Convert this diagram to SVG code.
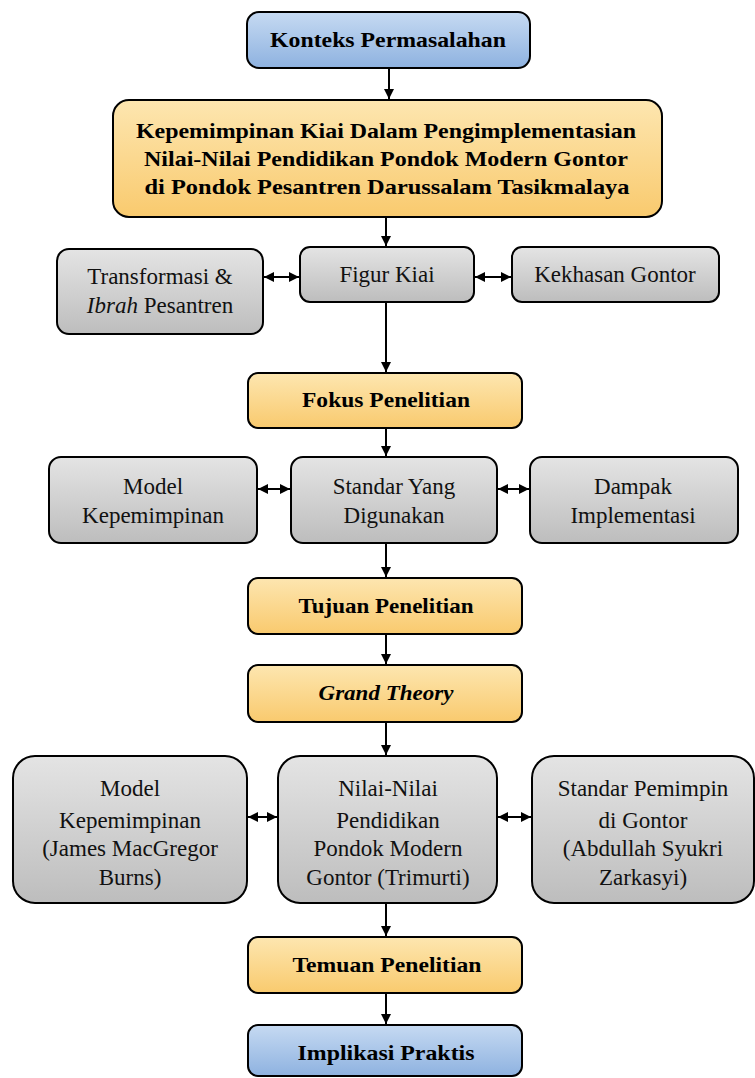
<svg xmlns="http://www.w3.org/2000/svg" width="755" height="1078" viewBox="0 0 755 1078">
<defs>
<linearGradient id="gOr" x1="0" y1="0" x2="0" y2="1"><stop offset="0" stop-color="#fde6b0"/><stop offset="1" stop-color="#f9ca6e"/></linearGradient>
<linearGradient id="gBl" x1="0" y1="0" x2="0" y2="1"><stop offset="0" stop-color="#c6daf2"/><stop offset="1" stop-color="#8eb2e0"/></linearGradient>
<linearGradient id="gGr" x1="0" y1="0" x2="0" y2="1"><stop offset="0" stop-color="#e4e4e4"/><stop offset="1" stop-color="#bdbdbd"/></linearGradient>
<marker id="ah" viewBox="0 0 10 10" refX="10" refY="5" markerWidth="5" markerHeight="5" orient="auto-start-reverse" markerUnits="strokeWidth"><path d="M0,0 L10,5 L0,10 Z" fill="#000"/></marker>
</defs>
<style>
.or{fill:url(#gOr);stroke:#000;stroke-width:2}
.bl{fill:url(#gBl);stroke:#000;stroke-width:2}
.gr{fill:url(#gGr);stroke:#000;stroke-width:2}
.b{font-family:"Liberation Serif","Times New Roman",serif;font-weight:bold;font-size:21px;fill:#000;text-anchor:middle}
.r{font-family:"Liberation Serif","Times New Roman",serif;font-size:23px;fill:#111;text-anchor:middle}
.c line{stroke:#000;stroke-width:2;marker-end:url(#ah)}
.c line.d{marker-start:url(#ah)}
</style>
<rect width="755" height="1078" fill="#fff"/>
<g id="n1"><rect class="bl" x="247" y="12" width="283" height="56" rx="12"/><text class="b" x="388" y="47" textLength="236" lengthAdjust="spacingAndGlyphs">Konteks Permasalahan</text></g>
<g id="n2"><rect class="or" x="113" y="100" width="549" height="117" rx="16"/>
<text class="b" x="386" y="138" textLength="500" lengthAdjust="spacingAndGlyphs">Kepemimpinan Kiai Dalam Pengimplementasian</text>
<text class="b" x="386" y="166" textLength="484" lengthAdjust="spacingAndGlyphs">Nilai-Nilai Pendidikan Pondok Modern Gontor</text>
<text class="b" x="387" y="194" textLength="485" lengthAdjust="spacingAndGlyphs">di Pondok Pesantren  Darussalam Tasikmalaya</text></g>
<g id="n3"><rect class="gr" x="57" y="249" width="206" height="85" rx="12"/><text class="r" x="160" y="284">Transformasi &amp;</text><text class="r" x="160" y="313"><tspan font-style="italic">Ibrah</tspan> Pesantren</text></g>
<g id="n4"><rect class="gr" x="300" y="247" width="174" height="55" rx="10"/><text class="r" x="387" y="282">Figur Kiai</text></g>
<g id="n5"><rect class="gr" x="512" y="247" width="207" height="55" rx="10"/><text class="r" x="615" y="282">Kekhasan Gontor</text></g>
<g id="n6"><rect class="or" x="248" y="373" width="274" height="55" rx="10"/><text class="b" x="386" y="407" textLength="168" lengthAdjust="spacingAndGlyphs">Fokus Penelitian</text></g>
<g id="n7"><rect class="gr" x="49" y="457" width="208" height="86" rx="12"/><text class="r" x="153" y="494">Model</text><text class="r" x="153" y="523">Kepemimpinan</text></g>
<g id="n8"><rect class="gr" x="291" y="457" width="206" height="86" rx="12"/><text class="r" x="394" y="494">Standar Yang</text><text class="r" x="394" y="523">Digunakan</text></g>
<g id="n9"><rect class="gr" x="530" y="457" width="208" height="86" rx="12"/><text class="r" x="633" y="494">Dampak</text><text class="r" x="633" y="523">Implementasi</text></g>
<g id="n10"><rect class="or" x="248" y="578" width="274" height="56" rx="10"/><text class="b" x="386" y="613" textLength="175" lengthAdjust="spacingAndGlyphs">Tujuan Penelitian</text></g>
<g id="n11"><rect class="or" x="248" y="665" width="274" height="57" rx="10"/><text class="b" x="386" y="700" font-style="italic" textLength="135" lengthAdjust="spacingAndGlyphs">Grand Theory</text></g>
<g id="n12"><rect class="gr" x="13" y="756" width="234" height="147" rx="22"/><text class="r" x="130" y="796">Model</text><text class="r" x="130" y="828">Kepemimpinan</text><text class="r" x="130" y="856">(James MacGregor</text><text class="r" x="130" y="885">Burns)</text></g>
<g id="n13"><rect class="gr" x="278" y="756" width="219" height="147" rx="22"/><text class="r" x="388" y="796">Nilai-Nilai</text><text class="r" x="388" y="828">Pendidikan</text><text class="r" x="388" y="856">Pondok Modern</text><text class="r" x="388" y="885">Gontor (Trimurti)</text></g>
<g id="n14"><rect class="gr" x="532" y="756" width="222" height="147" rx="22"/><text class="r" x="643" y="796">Standar Pemimpin</text><text class="r" x="643" y="828">di Gontor</text><text class="r" x="643" y="856">(Abdullah Syukri</text><text class="r" x="643" y="885">Zarkasyi)</text></g>
<g id="n15"><rect class="or" x="248" y="937" width="274" height="56" rx="10"/><text class="b" x="387" y="972" textLength="189" lengthAdjust="spacingAndGlyphs">Temuan Penelitian</text></g>
<g id="n16"><rect class="bl" x="248" y="1025" width="274" height="51" rx="10"/><text class="b" x="386" y="1060" textLength="177" lengthAdjust="spacingAndGlyphs">Implikasi Praktis</text></g>
<g id="connectors" class="c">
<line x1="389" y1="68" x2="389" y2="99"/>
<line x1="386" y1="217" x2="386" y2="246"/>
<line x1="386" y1="302" x2="386" y2="372"/>
<line x1="386" y1="428" x2="386" y2="456"/>
<line x1="386" y1="543" x2="386" y2="577"/>
<line x1="386" y1="634" x2="386" y2="664"/>
<line x1="386" y1="722" x2="386" y2="755"/>
<line x1="386" y1="903" x2="386" y2="936"/>
<line x1="386" y1="993" x2="386" y2="1024"/>
<line class="d" x1="264" y1="277" x2="299" y2="277"/>
<line class="d" x1="475" y1="277" x2="511" y2="277"/>
<line class="d" x1="258" y1="489" x2="290" y2="489"/>
<line class="d" x1="498" y1="489" x2="529" y2="489"/>
<line class="d" x1="248" y1="817" x2="277" y2="817"/>
<line class="d" x1="498" y1="817" x2="531" y2="817"/>
</g>
</svg>
